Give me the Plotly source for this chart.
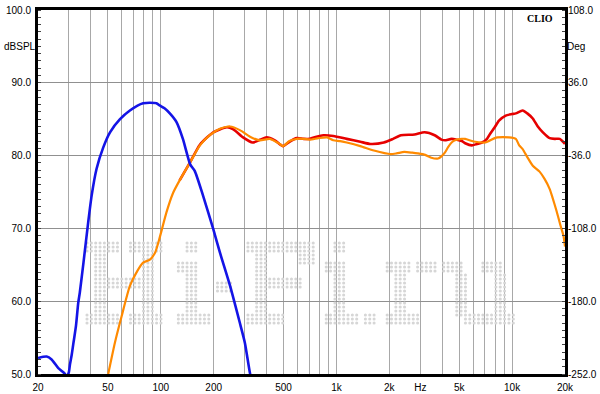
import plotly.graph_objects as go

# ---------------- data ----------------
blue_f = [20, 22.4, 23.9, 26.1, 27.3, 28.5, 29.2, 30.0, 30.4, 31.1, 31.8, 32.9, 33.9, 34.6, 36.3,
          38.6, 40.4, 43.1, 47.0, 51.4, 58.6, 66.7, 79.3, 94.4, 98.5, 105, 112.6, 122.9,
          133.6, 147, 156, 174, 199, 217, 248, 282, 301, 322, 335]
blue_db = [52.2, 52.4, 52.0, 50.8, 50.4, 50.0, 49.6, 50.3, 51.3, 52.6, 54.2, 56.6, 59.8, 61.2, 65.3,
           70.8, 74.5, 78.2, 81.1, 83.2, 85.0, 86.2, 87.2, 87.2, 86.9, 86.5, 85.8, 84.6,
           82.3, 78.8, 77.9, 74.5, 69.9, 66.7, 62.1, 57.0, 54.3, 50.1, 48.5]

orange_f = [50.2, 54.8, 59.8, 66.7, 73.3, 79.3, 86.7, 92.9, 98.5, 107.7, 117.6, 128, 147, 167,
            190, 217, 248, 282, 322, 366, 418, 476, 497, 540, 595, 650, 706, 790, 885, 960,
            1050, 1144, 1367, 1634, 2035, 2200, 2432, 2700, 2905, 3200, 3467, 3791, 3959,
            4140, 4330, 4526, 4730, 5168, 5402, 5904, 6170, 6743, 7047, 7963, 8240, 9610,
            10500, 10970, 11480, 12200, 13110, 14330, 15300, 16370, 17000, 17900, 18800,
            19600, 20000]
orange_db = [50.0, 54.3, 57.9, 62.1, 64.1, 65.3, 65.7, 66.7, 68.7, 72.2, 74.9, 76.6, 79.1, 81.4,
             82.8, 83.7, 84.0, 83.5, 82.6, 82.1, 82.3, 81.6, 81.3, 82.0, 82.3, 82.3, 82.2, 82.4,
             82.5, 82.1, 82.0, 81.8, 81.3, 80.7, 80.2, 80.3, 80.5, 80.4, 80.3, 80.1, 79.7, 79.6,
             79.9, 80.4, 81.2, 81.8, 82.1, 82.3, 82.3, 82.0, 81.9, 81.8, 81.8, 82.4, 82.5, 82.5,
             82.3, 81.4, 80.9, 79.8, 78.6, 77.8, 76.8, 75.4, 74.2, 72.4, 70.5, 69.0, 67.5]

red_f = [128, 147, 167, 199, 238, 259, 294, 333, 370, 400, 446, 497, 540, 595, 650, 706, 770,
         843, 960, 1144, 1367, 1561, 1860, 2100, 2329, 2780, 3175, 3625, 3959, 4140, 4526,
         5168, 5402, 5904, 6300, 6743, 7192, 7500, 7963, 8420, 9194, 10000, 10500, 11480,
         12200, 13110, 14000, 14970, 16370, 17500, 18690, 19500, 20000]
red_db = [76.6, 79.1, 81.5, 83.2, 83.9, 83.6, 82.5, 81.8, 82.2, 82.5, 82.1, 81.3, 81.9, 82.4,
          82.3, 82.3, 82.6, 82.8, 82.7, 82.3, 81.9, 81.6, 81.8, 82.3, 82.8, 82.9, 83.2, 82.8,
          82.2, 82.1, 82.3, 82.0, 81.7, 81.4, 81.6, 81.8, 82.3, 83.0, 83.9, 84.8, 85.5, 85.7,
          85.8, 86.2, 85.8, 85.1, 84.0, 83.2, 82.4, 82.3, 82.3, 81.9, 81.6]

grid_freqs = ([20, 30, 40, 50, 60, 70, 80, 90] + [100 * k for k in range(1, 10)]
              + [1000 * k for k in range(1, 10)] + [10000, 20000])
x_labels = {20: "20", 50: "50", 100: "100", 200: "200", 500: "500", 1000: "1k",
            2000: "2k", 3000: "Hz", 5000: "5k", 10000: "10k", 20000: "20k"}
y_ticks = [50, 60, 70, 80, 90, 100]
phase_ticks = [-252, -180, -108, -36, 36, 108]

# ---------------- geometry helpers (for the dotted watermark only) ----------------
PL, PR, PT, PB = 38, 565, 10, 374


def px_to_f(x):
    return 20 * 10 ** ((x - PL) / (PR - PL) * 3)


def px_to_db(y):
    return 50 + (PB - y) / (PB - PT) * 50


DX, DY, X0, Y0 = 4.35, 4.0, 87, 243
wm_rects = [
    # H
    (0, 0, 8, 3), (10, 0, 8, 3), (2, 3, 3, 15), (13, 3, 3, 15), (5, 9, 8, 3), (0, 18, 8, 3), (10, 18, 8, 3),
    # i
    (23, 0, 3, 3), (21, 5, 5, 3), (23, 8, 3, 10), (21, 18, 8, 3),
    # -
    (30, 10, 4, 3),
    # F
    (37, 0, 16, 3), (49, 3, 4, 3), (39, 3, 3, 15), (42, 9, 8, 3), (37, 18, 9, 3),
    # i
    (57, 0, 3, 3), (55, 5, 5, 3), (57, 8, 3, 10), (55, 18, 8, 3),
    # .
    (64, 18, 3, 3),
    # r
    (69, 5, 6, 3), (76, 5, 5, 3), (71, 8, 3, 10), (69, 18, 8, 3),
    # u
    (82, 5, 5, 3), (85, 8, 3, 11), (91, 5, 5, 3), (94, 8, 3, 13), (87, 18, 12, 3),
]
dots = set()
for c0, r0, nc, nr in wm_rects:
    for c in range(c0, c0 + nc):
        for r in range(r0, r0 + nr):
            dots.add((c, r))
wm_x = [px_to_f(X0 + c * DX) for c, r in sorted(dots)]
wm_y = [px_to_db(Y0 + r * DY) for c, r in sorted(dots)]

# ---------------- figure ----------------
fig = go.Figure()
fig.add_trace(go.Scatter(x=wm_x, y=wm_y, mode="markers",
                         marker=dict(size=3.1, color="#d6d6d6", line=dict(width=0)),
                         hoverinfo="skip", showlegend=False))
fig.add_trace(go.Scatter(x=red_f, y=red_db, mode="lines",
                         line=dict(color="#e60000", width=2.6, shape="spline", smoothing=0.6),
                         showlegend=False))
fig.add_trace(go.Scatter(x=orange_f, y=orange_db, mode="lines",
                         line=dict(color="#ff8a00", width=2.2, shape="spline", smoothing=0.6),
                         showlegend=False))
fig.add_trace(go.Scatter(x=blue_f, y=blue_db, mode="lines",
                         line=dict(color="#1414e6", width=2.6, shape="spline", smoothing=0.6),
                         showlegend=False))
# phase axis carrier (no visible marks)
fig.add_trace(go.Scatter(x=[20], y=[0], yaxis="y2", mode="markers",
                         marker=dict(opacity=0), hoverinfo="skip", showlegend=False))

font = dict(family="Liberation Sans, Arial, sans-serif", size=10, color="black")

fig.update_layout(
    width=600, height=394,
    margin=dict(l=PL, r=600 - PR, t=PT, b=394 - PB, autoexpand=False),
    paper_bgcolor="white", plot_bgcolor="white",
    font=font,
    xaxis=dict(type="log", range=[1.30103, 4.30103], automargin=False,
               tickmode="array", tickvals=grid_freqs,
               ticktext=[x_labels.get(f, "") for f in grid_freqs],
               showgrid=True, gridcolor="#a8a8a8", gridwidth=1,
               ticks="", showline=True, linecolor="black", linewidth=3, mirror=True,
               zeroline=False, tickfont=font, ticklabelstandoff=2),
    yaxis=dict(range=[50, 100], automargin=False, tickmode="array", tickvals=y_ticks,
               ticktext=["%.1f" % v for v in y_ticks],
               showgrid=True, gridcolor="#909090", gridwidth=1,
               ticks="", showline=True, linecolor="black", linewidth=3, mirror=True,
               zeroline=False, tickfont=font, ticklabelstandoff=2,
               minor=dict(ticks="inside", tickvals=list(range(50, 101)), ticklen=3,
                          tickcolor="#444", tickwidth=1, showgrid=False)),
    yaxis2=dict(range=[-252, 108], automargin=False, overlaying="y", side="right",
                tickmode="array", tickvals=phase_ticks,
                ticktext=["%.1f" % v for v in phase_ticks],
                showgrid=False, zeroline=False, showline=False, ticks="",
                tickfont=font, ticklabelstandoff=2,
                minor=dict(ticks="inside", tickvals=[-252 + 7.2 * k for k in range(51)],
                           ticklen=3, tickcolor="#444", tickwidth=1, showgrid=False)),
    annotations=[
        dict(text="dBSPL", x=(20 - PL) / (PR - PL), y=(PB - 47) / (PB - PT), xref="paper", yref="paper",
             showarrow=False, xanchor="center", yanchor="middle", font=font),
        dict(text="Deg", x=(576 - PL) / (PR - PL), y=(PB - 47) / (PB - PT), xref="paper", yref="paper",
             showarrow=False, xanchor="center", yanchor="middle", font=font),
        dict(text="<b>CLIO</b>", x=(540 - PL) / (PR - PL), y=(PB - 18.5) / (PB - PT), xref="paper",
             yref="paper", showarrow=False, xanchor="center", yanchor="middle",
             font=dict(family="Liberation Serif, Times New Roman, serif", size=10, color="black")),
    ],
)

# the page's default 8px body margin would shift the 600x394 figure; remove it
fig.write_html("out.html", config={"displayModeBar": False},
               post_script="document.body.style.margin='0';")
